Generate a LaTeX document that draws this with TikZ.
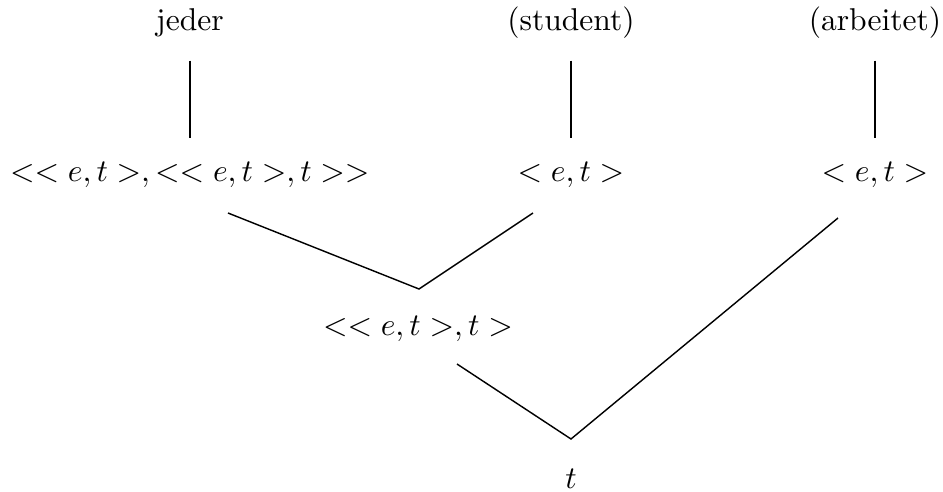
\documentclass[tikz,border=0pt]{standalone}
\usetikzlibrary{calc}

\tikzset{
  word/.style={inner sep=0pt, text height=7pt, text depth=2pt, anchor=base},
  typ/.style={inner sep=0pt, text height=7pt, text depth=2pt, anchor=base},
  branch/.style={line width=0.45pt, color=black}
}

\begin{document}
\begin{tikzpicture}[x=0.317pt,y=0.317pt]
\useasboundingbox (0,0) rectangle (943,491);

% words
\node[word] (jeder) at (190,461) {jeder};
\node[word] (student) at (571,461) {(student)};
\node[word] (arbeitet) at (875,461) {(arbeitet)};

% types
\node[typ] (det) at (190,310) {$<<e,t>,<<e,t>,t>>$};
\node[typ] (n) at (571,310) {$<e,t>$};
\node[typ] (vp) at (875,310) {$<e,t>$};
\node[typ] (np) at (418,156) {$<<e,t>,t>$};
\node[typ] (s) at (571,3) {$t$};

\coordinate (detr) at (228,278);
\coordinate (nl) at (533,278);
\coordinate (v1) at (419,202);
\coordinate (npr) at (457,127);
\coordinate (vpl) at (838,273);
\coordinate (v2) at (571,52);

\draw[branch,shorten <=7.5pt,shorten >=6.5pt] (jeder.south) -- (det.north);
\draw[branch,shorten <=7.5pt,shorten >=6.5pt] (student.south) -- (n.north);
\draw[branch,shorten <=7.5pt,shorten >=6.5pt] (arbeitet.south) -- (vp.north);

\draw[branch] (detr) -- (v1) -- (nl);
\draw[branch] (npr) -- (v2) -- (vpl);

\end{tikzpicture}
\end{document}
